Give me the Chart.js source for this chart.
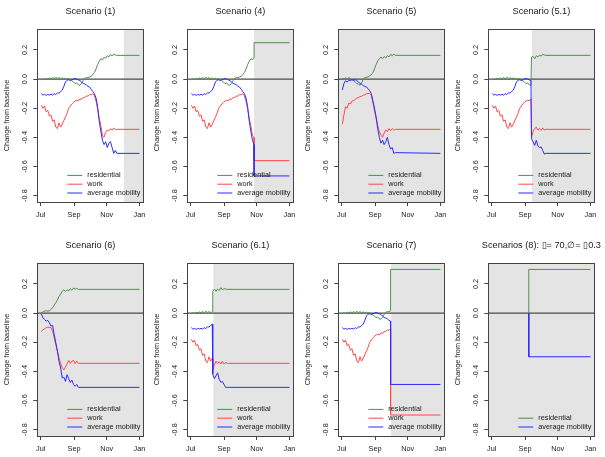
<!DOCTYPE html>
<html>
<head>
<meta charset="utf-8">
<script src="https://cdn.jsdelivr.net/npm/chart.js@4"></script>
<style>
  html, body { margin: 0; padding: 0; background: #ffffff; }
  #wrap { position: relative; width: 605px; height: 457px; overflow: hidden; }
  canvas { position: absolute; }
</style>
</head>
<body>
<div id="wrap"></div>
<script>
// ---------------- DATA (day index counted from 1 July) ----------------
const xTickDays = [0, 62, 123, 184];
const xTickLabels = ['Jul', 'Sep', 'Nov', 'Jan'];
const yTicks = [-0.8, -0.6, -0.4, -0.2, 0.0, 0.2];

const seriesNames = ['residential', 'work', 'average mobility'];

const panelTitles = ['Scenario (1)', 'Scenario (4)', 'Scenario (5)', 'Scenario (5.1)',
  'Scenario (6)', 'Scenario (6.1)', 'Scenario (7)', 'Scenarios (8): \u25AF= 70,\u2205= \u25AF0.3'];
// day where the grey (intervention) shading starts; -10 = whole panel
const shadeStarts = [155, 118, -10, 75, -10, 42, 92, -10];

// observed mobility (used by scenarios 1, 4, 5.1, 6.1, 7)
const baseDays = [1,4,7,10,13,16,19,22,25,28,31,34,37,40,43,46,49,52,55,58,61,64,67,70,73,76,79,82,85,88,91,94,97,100,103,106,109,112,115,118,121,124,127,130,133,136,139,142,184];
const baseResidential = [-0.005,0.002,-0.003,0.006,0.0,0.008,0.002,0.01,0.003,0.012,0.004,0.01,0.002,0.008,0.0,0.006,-0.002,0.004,-0.006,-0.012,-0.02,-0.032,-0.026,-0.04,-0.042,-0.03,-0.01,0.006,0.01,0.009,0.015,0.02,0.03,0.045,0.07,0.1,0.122,0.14,0.132,0.15,0.143,0.16,0.152,0.17,0.158,0.172,0.165,0.163,0.163];
const baseWork = [-0.18,-0.2,-0.185,-0.225,-0.215,-0.255,-0.245,-0.29,-0.28,-0.33,-0.34,-0.3,-0.33,-0.31,-0.285,-0.26,-0.235,-0.2,-0.185,-0.17,-0.16,-0.15,-0.145,-0.15,-0.135,-0.14,-0.125,-0.128,-0.115,-0.118,-0.105,-0.108,-0.1,-0.115,-0.15,-0.21,-0.27,-0.32,-0.39,-0.4,-0.365,-0.35,-0.355,-0.34,-0.352,-0.335,-0.348,-0.345,-0.345];
const baseMobility = [-0.1,-0.11,-0.105,-0.112,-0.105,-0.11,-0.104,-0.11,-0.1,-0.106,-0.095,-0.096,-0.085,-0.076,-0.05,-0.02,-0.008,-0.004,-0.01,-0.004,0.0,0.005,0.0,-0.006,-0.01,-0.02,-0.03,-0.034,-0.04,-0.05,-0.055,-0.07,-0.085,-0.1,-0.13,-0.19,-0.29,-0.36,-0.42,-0.45,-0.43,-0.47,-0.44,-0.43,-0.47,-0.51,-0.49,-0.51,-0.51];

// scenario (4): observed up to day 118, then jump
const s4Cut = 118;
const s4Days = [118, 184];
const s4Residential = [0.25, 0.25];
const s4Work = [-0.56, -0.56];
const s4Mobility = [-0.665, -0.665];

// scenario (5)
const s5Days = [1,4,7,10,13,16,19,22,25,28,31,34,37,40,43,46,49,52,55,58,61,64,67,70,73,76,79,82,85,88,91,94,97,100,184];
const s5Residential = [0.005,0.0,0.008,0.0,0.01,0.004,-0.005,-0.01,-0.02,-0.03,-0.035,-0.042,-0.025,0.0,0.01,0.012,0.015,0.022,0.03,0.045,0.07,0.1,0.125,0.14,0.152,0.14,0.155,0.145,0.16,0.152,0.17,0.16,0.172,0.163,0.163];
const s5Work = [-0.31,-0.245,-0.19,-0.2,-0.165,-0.17,-0.15,-0.148,-0.14,-0.13,-0.128,-0.12,-0.118,-0.11,-0.108,-0.1,-0.1,-0.098,-0.11,-0.16,-0.22,-0.27,-0.32,-0.36,-0.385,-0.4,-0.37,-0.35,-0.36,-0.34,-0.355,-0.34,-0.35,-0.345,-0.345];
const s5Mobility = [-0.075,-0.03,-0.012,-0.02,-0.008,-0.01,-0.004,-0.008,-0.004,-0.01,-0.02,-0.03,-0.035,-0.045,-0.05,-0.055,-0.065,-0.08,-0.1,-0.15,-0.2,-0.26,-0.34,-0.4,-0.44,-0.42,-0.45,-0.43,-0.4,-0.45,-0.48,-0.47,-0.51,-0.505,-0.51];

// scenario (5.1): observed up to day 73, then jump
const s51Cut = 73;
const s51Days = [74,77,80,83,86,89,92,95,98,101,184];
const s51Residential = [0.15,0.155,0.14,0.16,0.152,0.165,0.158,0.17,0.165,0.163,0.163];
const s51Work = [-0.4,-0.36,-0.34,-0.33,-0.35,-0.34,-0.352,-0.335,-0.35,-0.345,-0.345];
const s51Mobility = [-0.41,-0.43,-0.455,-0.42,-0.46,-0.47,-0.465,-0.49,-0.515,-0.51,-0.51];

// scenario (6)
const s6Days = [1,4,7,10,13,16,19,22,25,28,31,34,37,40,43,46,49,52,55,58,61,64,67,70,184];
const s6Residential = [0.0,0.008,0.014,0.015,0.014,0.015,0.025,0.037,0.055,0.072,0.09,0.115,0.13,0.15,0.16,0.148,0.16,0.152,0.168,0.158,0.172,0.165,0.17,0.163,0.163];
const s6Work = [-0.125,-0.115,-0.108,-0.1,-0.097,-0.098,-0.1,-0.124,-0.17,-0.216,-0.26,-0.308,-0.345,-0.375,-0.39,-0.37,-0.35,-0.325,-0.345,-0.33,-0.325,-0.347,-0.33,-0.345,-0.345];
const s6Mobility = [-0.007,-0.032,-0.044,-0.055,-0.05,-0.066,-0.089,-0.085,-0.147,-0.204,-0.262,-0.331,-0.377,-0.446,-0.44,-0.469,-0.423,-0.45,-0.476,-0.46,-0.49,-0.503,-0.49,-0.51,-0.51];

// scenario (6.1): observed up to day 40, then jump
const s61Cut = 40;
const s61Days = [41,44,47,50,53,56,59,62,65,68,184];
const s61Residential = [0.15,0.165,0.15,0.165,0.155,0.175,0.16,0.168,0.165,0.163,0.163];
const s61Work = [-0.39,-0.355,-0.33,-0.345,-0.335,-0.35,-0.33,-0.35,-0.34,-0.345,-0.345];
const s61Mobility = [-0.42,-0.45,-0.43,-0.41,-0.455,-0.475,-0.47,-0.49,-0.51,-0.51,-0.51];

// scenario (7): observed up to day 91, then jump
const s7Cut = 91;
const s7Days = [91, 184];
const s7Residential = [0.3, 0.3];
const s7Work = [-0.7, -0.7];
const s7Mobility = [-0.49, -0.49];

// scenario (8)
const s8Days = [69, 69, 184];
const s8Residential = [0, 0.3, 0.3];
const s8Mobility = [0, -0.3, -0.3];

// ---------------- helpers ----------------
function pts(days, vals) { return days.map((d, i) => ({ x: d, y: vals[i] })); }
function baseUpTo(cut, vals) {
  const out = [];
  baseDays.forEach((d, i) => { if (d <= cut) out.push({ x: d, y: vals[i] }); });
  return out;
}
function joined(cut, baseVals, days, vals) { return baseUpTo(cut, baseVals).concat(pts(days, vals)); }

const COLORS = { residential: '#4e8f4e', work: '#ff4848', 'average mobility': '#2b2bff' };
const ORDERS = { residential: 3, work: 2, 'average mobility': 1 };

const panelSeries = [
  [pts(baseDays, baseResidential), pts(baseDays, baseWork), pts(baseDays, baseMobility)],
  [joined(s4Cut, baseResidential, s4Days, s4Residential), joined(s4Cut, baseWork, s4Days, s4Work), joined(s4Cut, baseMobility, s4Days, s4Mobility)],
  [pts(s5Days, s5Residential), pts(s5Days, s5Work), pts(s5Days, s5Mobility)],
  [joined(s51Cut, baseResidential, s51Days, s51Residential), joined(s51Cut, baseWork, s51Days, s51Work), joined(s51Cut, baseMobility, s51Days, s51Mobility)],
  [pts(s6Days, s6Residential), pts(s6Days, s6Work), pts(s6Days, s6Mobility)],
  [joined(s61Cut, baseResidential, s61Days, s61Residential), joined(s61Cut, baseWork, s61Days, s61Work), joined(s61Cut, baseMobility, s61Days, s61Mobility)],
  [joined(s7Cut, baseResidential, s7Days, s7Residential), joined(s7Cut, baseWork, s7Days, s7Work), joined(s7Cut, baseMobility, s7Days, s7Mobility)],
  [pts(s8Days, s8Residential), null, pts(s8Days, s8Mobility)]
];

const FONT = '"Liberation Sans", Arial, Helvetica, sans-serif';
const TXT = '#1a1a1a';

const decor = {
  id: 'decor',
  beforeDatasetsDraw(chart, args, opts) {
    const { ctx, chartArea: a, scales: { x, y } } = chart;
    ctx.save();
    const sx = Math.max(a.left, x.getPixelForValue(opts.shadeStart));
    ctx.fillStyle = '#e4e4e4';
    ctx.fillRect(sx, a.top, a.right - sx, a.bottom - a.top);
    const y0 = y.getPixelForValue(0);
    ctx.strokeStyle = '#4a4a4a';
    ctx.lineWidth = 1.3;
    ctx.beginPath(); ctx.moveTo(a.left, y0); ctx.lineTo(a.right, y0); ctx.stroke();
    ctx.restore();
  },
  afterDatasetsDraw(chart, args, opts) {
    const { ctx, chartArea: a } = chart;
    ctx.save();
    // box
    ctx.strokeStyle = '#444';
    ctx.lineWidth = 1;
    ctx.strokeRect(Math.round(a.left) + 0.5, Math.round(a.top) + 0.5, Math.round(a.right - a.left), Math.round(a.bottom - a.top));
    // legend (bottom right, no box)
    const ds = chart.data.datasets;
    const n = ds.length;
    ctx.font = '7.3px ' + FONT;
    ctx.textBaseline = 'middle';
    ctx.textAlign = 'left';
    ds.forEach((d, i) => {
      const yy = a.bottom - 9 - 8.8 * (n - 1 - i);
      ctx.strokeStyle = d.borderColor;
      ctx.lineWidth = 1;
      ctx.beginPath(); ctx.moveTo(a.left + 30, yy); ctx.lineTo(a.left + 45, yy); ctx.stroke();
      ctx.fillStyle = TXT;
      ctx.fillText(d.label, a.left + 50, yy);
    });
    // title
    ctx.font = '9.2px ' + FONT;
    ctx.textAlign = 'center';
    ctx.fillStyle = TXT;
    ctx.fillText(opts.title, (a.left + a.right) / 2, 11.3);
    ctx.restore();
  }
};

const lefts = [0, 150, 301, 451];
const tops = [0, 234];
const wrap = document.getElementById('wrap');

panelTitles.forEach((title, p) => {
  const cv = document.createElement('canvas');
  cv.width = 151; cv.height = 228;
  cv.style.left = lefts[p % 4] + 'px';
  cv.style.top = tops[Math.floor(p / 4)] + 'px';
  wrap.appendChild(cv);

  const datasets = [];
  panelSeries[p].forEach((data, k) => {
    if (!data) return;
    const name = seriesNames[k];
    datasets.push({
      label: name, data: data, borderColor: COLORS[name], backgroundColor: COLORS[name],
      borderWidth: 1, pointRadius: 0, tension: 0, fill: false, order: ORDERS[name]
    });
  });

  new Chart(cv, {
    type: 'line',
    data: { datasets },
    plugins: [decor],
    options: {
      responsive: false, animation: false, devicePixelRatio: 1,
      layout: { padding: { top: 29, right: 7.5, bottom: 0, left: 0 } },
      plugins: {
        legend: { display: false }, tooltip: { enabled: false }, title: { display: false },
        decor: { title: title, shadeStart: shadeStarts[p] }
      },
      scales: {
        x: {
          type: 'linear', min: -6.5, max: 191.5,
          afterBuildTicks: s => { s.ticks = xTickDays.map(v => ({ value: v })); },
          afterFit: s => { s.height = 26; },
          grid: { drawOnChartArea: false, drawTicks: true, tickLength: 4, color: '#444', lineWidth: 1 },
          border: { display: false },
          ticks: {
            minRotation: 0, maxRotation: 0, autoSkip: false, padding: 4.5, color: TXT,
            font: { family: FONT, size: 7.3 },
            callback: v => xTickLabels[xTickDays.indexOf(v)]
          }
        },
        y: {
          type: 'linear', min: -0.844, max: 0.344,
          afterBuildTicks: s => { s.ticks = yTicks.map(v => ({ value: v })); },
          afterFit: s => { s.width = 37.3; },
          grid: { drawOnChartArea: false, drawTicks: true, tickLength: 4, color: '#444', lineWidth: 1 },
          border: { display: false },
          ticks: {
            minRotation: 90, maxRotation: 90, crossAlign: 'center', padding: 2, autoSkip: false, color: TXT,
            font: { family: FONT, size: 7.3 },
            callback: v => Number(v).toFixed(1)
          },
          title: {
            display: true, text: 'Change from baseline', color: TXT,
            font: { family: FONT, size: 7.3 }, padding: { top: 2.3, bottom: 0 }
          }
        }
      }
    }
  });
});
</script>
</body>
</html>
